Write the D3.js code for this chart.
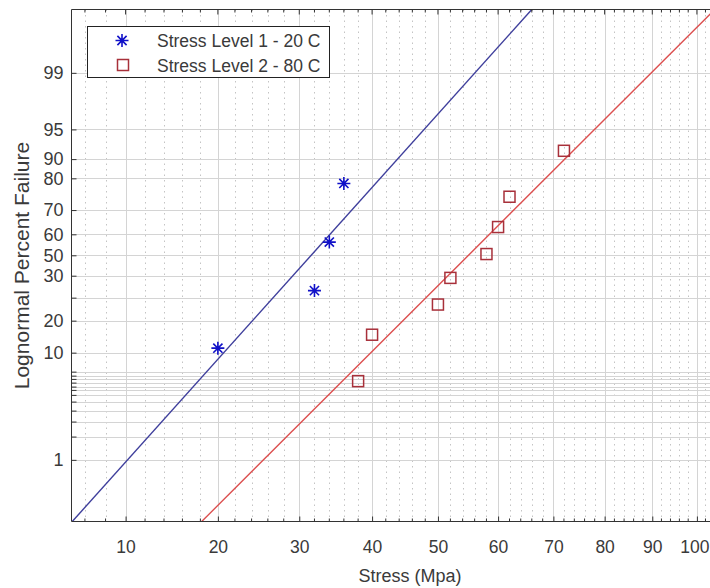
<!DOCTYPE html>
<html>
<head>
<meta charset="utf-8">
<script src="https://cdn.jsdelivr.net/npm/d3@7"></script>
<style>
  body { margin: 0; background: #fff; }
  text { font-family: "Liberation Sans", Arial, sans-serif; fill: #3a3a3a; }
</style>
</head>
<body>
<svg id="chart" width="710" height="588"></svg>
<script>
// Failure data: stress (MPa) against lognormal plotting position (%)
const level1Stress  = [20, 32, 34, 36];
const level1Failure = [11.4, 26.6, 56.3, 78.4];
const level2Stress  = [38, 40, 50, 52, 58, 60, 62, 72];
const level2Failure = [6.4, 15.6, 23.5, 29.5, 50.6, 63.0, 74.2, 91.4];

// Fitted lines, given by their two end points [stress, percent]
const level1Fit = [[4.8, 0.1], [66, 99.9]];
const level2Fit = [[18.15, 0.1], [104.2, 99.9]];

// Axis ticks
const xTicks = [10, 20, 30, 40, 50, 60, 70, 80, 90, 100];
const xMinorTicks = [6, 8, 12, 14, 16, 18, 22, 24, 26, 28, 32, 34, 36, 38, 42, 44, 46, 48,
  52, 54, 56, 58, 62, 64, 66, 68, 72, 74, 76, 78, 82, 84, 86, 88, 92, 94, 96, 98, 102];
const yTicks = [99, 95, 90, 80, 70, 60, 50, 30, 25, 20, 10, 9, 8, 7, 6, 5, 4, 3.5, 3, 2.5, 2, 1.5, 1];
const yTickLabels = ["99", "95", "90", "80", "70", "60", "50", "30", "", "20", "10",
  "", "", "", "", "", "", "", "", "", "", "", "1"];

const seriesNames = ["Stress Level 1 - 20 C", "Stress Level 2 - 80 C"];

const plot = { left: 71.5, top: 9.5, right: 711, bottom: 521.5 };
const ph = plot.bottom - plot.top;

// Stress axis: logarithmic in (stress + 60)
const shift = 60;
const xLog = d3.scaleLog().domain([4.73 + shift, 103.3 + shift]).range([plot.left, plot.right]);
const x = v => xLog(v + shift);

// Percent axis: probability-paper ruling, fraction of plot height from the top
const paperValues = [99.9, 99, 95, 90, 80, 70, 60, 50, 30, 25, 20, 10, 9, 8, 7, 6, 5, 4, 3.5, 3, 2.5, 2, 1.5, 1, 0.1];
const paperRuling = [0, 0.1237, 0.2342, 0.2922, 0.3298, 0.3917, 0.4391, 0.4801, 0.5199, 0.5628,
  0.6077, 0.6702, 0.7073, 0.7151, 0.7215, 0.7287, 0.7365, 0.7430, 0.7527, 0.7658, 0.7834,
  0.8048, 0.8341, 0.8796, 1];
const y = d3.scaleLinear().domain(paperValues).range(paperRuling.map(f => plot.top + f * ph));

const svg = d3.select("#chart");
const font = "Liberation Sans, Arial, sans-serif";
const textColor = "#3a3a3a";
const axisColor = "#333";

// Grid: dotted minor verticals, solid majors
const grid = svg.append("g");
const minorTicks = xMinorTicks.filter(v => x(v) < plot.right);
grid.selectAll("line.minor").data(minorTicks).join("line")
  .attr("x1", d => Math.round(x(d)) + 0.5).attr("x2", d => Math.round(x(d)) + 0.5)
  .attr("y1", plot.top).attr("y2", plot.bottom)
  .attr("stroke", "#c4c4c4").attr("stroke-width", 1).attr("stroke-dasharray", "1.5,4");
grid.selectAll("line.vmaj").data(xTicks).join("line")
  .attr("x1", d => Math.round(x(d)) + 0.5).attr("x2", d => Math.round(x(d)) + 0.5)
  .attr("y1", plot.top).attr("y2", plot.bottom)
  .attr("stroke", "#d4d4d4").attr("stroke-width", 1);
grid.selectAll("line.hmaj").data(yTicks).join("line")
  .attr("x1", plot.left).attr("x2", plot.right)
  .attr("y1", d => Math.round(y(d)) + 0.5).attr("y2", d => Math.round(y(d)) + 0.5)
  .attr("stroke", "#d4d4d4").attr("stroke-width", 1);

// Fitted lines
svg.append("clipPath").attr("id", "plotclip").append("rect")
  .attr("x", plot.left).attr("y", plot.top)
  .attr("width", plot.right - plot.left).attr("height", ph);
const lineGen = d3.line().x(d => x(d[0])).y(d => y(d[1]));
svg.append("path").datum(level1Fit).attr("d", lineGen)
  .attr("fill", "none").attr("stroke", "#3f3f9c").attr("stroke-width", 1.4)
  .attr("clip-path", "url(#plotclip)");
svg.append("path").datum(level2Fit).attr("d", lineGen)
  .attr("fill", "none").attr("stroke", "#dc4f4f").attr("stroke-width", 1.4)
  .attr("clip-path", "url(#plotclip)");

// Markers
const starPath = r => {
  const a = r * Math.SQRT1_2;
  return `M${-r},0L${r},0M0,${-r}L0,${r}M${-a},${-a}L${a},${a}M${-a},${a}L${a},${-a}`;
};
const drawStar = (g, cx, cy) => g.append("path").attr("d", starPath(6.5))
  .attr("transform", `translate(${cx},${cy})`)
  .attr("stroke", "#1010c8").attr("stroke-width", 1.6).attr("fill", "none");
const drawSquare = (g, cx, cy) => g.append("rect")
  .attr("x", cx - 5.5).attr("y", cy - 5.5).attr("width", 11).attr("height", 11)
  .attr("stroke", "#a8303a").attr("stroke-width", 1.5).attr("fill", "none");

const marks = svg.append("g");
level1Stress.forEach((s, i) => drawStar(marks, x(s), y(level1Failure[i])));
level2Stress.forEach((s, i) => drawSquare(marks, x(s), y(level2Failure[i])));

// Frame
[[plot.left, plot.top, plot.right, plot.top],
 [plot.left, plot.bottom, plot.right, plot.bottom],
 [plot.left, plot.top, plot.left, plot.bottom]].forEach(([x1, y1, x2, y2]) =>
  svg.append("line").attr("x1", x1).attr("y1", y1).attr("x2", x2).attr("y2", y2)
    .attr("stroke", axisColor));

// Bottom axis (scale in shifted stress units, labelled in MPa)
const bottomAxis = svg.append("g").attr("transform", `translate(0,${plot.bottom})`)
  .call(d3.axisBottom(xLog).tickValues(xTicks.map(v => v + shift)).tickSize(-5)
    .tickPadding(19).tickFormat(v => d3.format("d")(v - shift)));
bottomAxis.select(".domain").remove();
bottomAxis.selectAll(".tick line").attr("stroke", axisColor);
bottomAxis.selectAll(".tick text").attr("font-size", 17.5).attr("fill", textColor)
  .attr("font-family", font);
// keep the last label inside the page edge
bottomAxis.selectAll(".tick text").filter((d, i, n) => i === n.length - 1)
  .attr("text-anchor", "end").attr("dx", 709 - xLog(xTicks[xTicks.length - 1] + shift));

// Minor and top ticks
svg.append("g").selectAll("line").data(minorTicks).join("line")
  .attr("x1", d => x(d)).attr("x2", d => x(d))
  .attr("y1", plot.bottom).attr("y2", plot.bottom - 3).attr("stroke", axisColor);
svg.append("g").selectAll("line").data(minorTicks).join("line")
  .attr("x1", d => x(d)).attr("x2", d => x(d))
  .attr("y1", plot.top).attr("y2", plot.top + 3).attr("stroke", axisColor);
svg.append("g").selectAll("line").data(xTicks).join("line")
  .attr("x1", d => x(d)).attr("x2", d => x(d))
  .attr("y1", plot.top).attr("y2", plot.top + 5).attr("stroke", axisColor);

// Left axis
const leftAxis = svg.append("g").attr("transform", `translate(${plot.left},0)`)
  .call(d3.axisLeft(y).tickValues(yTicks).tickSize(-5).tickPadding(8)
    .tickFormat((d, i) => yTickLabels[i]));
leftAxis.select(".domain").remove();
leftAxis.selectAll(".tick line").attr("stroke", axisColor);
leftAxis.selectAll(".tick text").attr("font-size", 18).attr("fill", textColor)
  .attr("font-family", font);

// Axis titles
svg.append("text").attr("x", 410).attr("y", 582)
  .attr("text-anchor", "middle").attr("font-size", 18).text("Stress (Mpa)");
svg.append("text").attr("transform", `translate(29,${(plot.top + plot.bottom) / 2}) rotate(-90)`)
  .attr("text-anchor", "middle").attr("font-size", 21).text("Lognormal Percent Failure");

// Legend
const lg = svg.append("g");
lg.append("rect").attr("x", 87.5).attr("y", 26.5).attr("width", 242).attr("height", 51)
  .attr("fill", "#fff").attr("stroke", "#222").attr("stroke-width", 1);
drawStar(lg, 122, 40.5);
drawSquare(lg, 123, 65);
seriesNames.forEach((n, i) => {
  lg.append("text").attr("x", 157).attr("y", 47 + i * 24.5).attr("font-size", 17.5).text(n);
});
</script>
</body>
</html>
